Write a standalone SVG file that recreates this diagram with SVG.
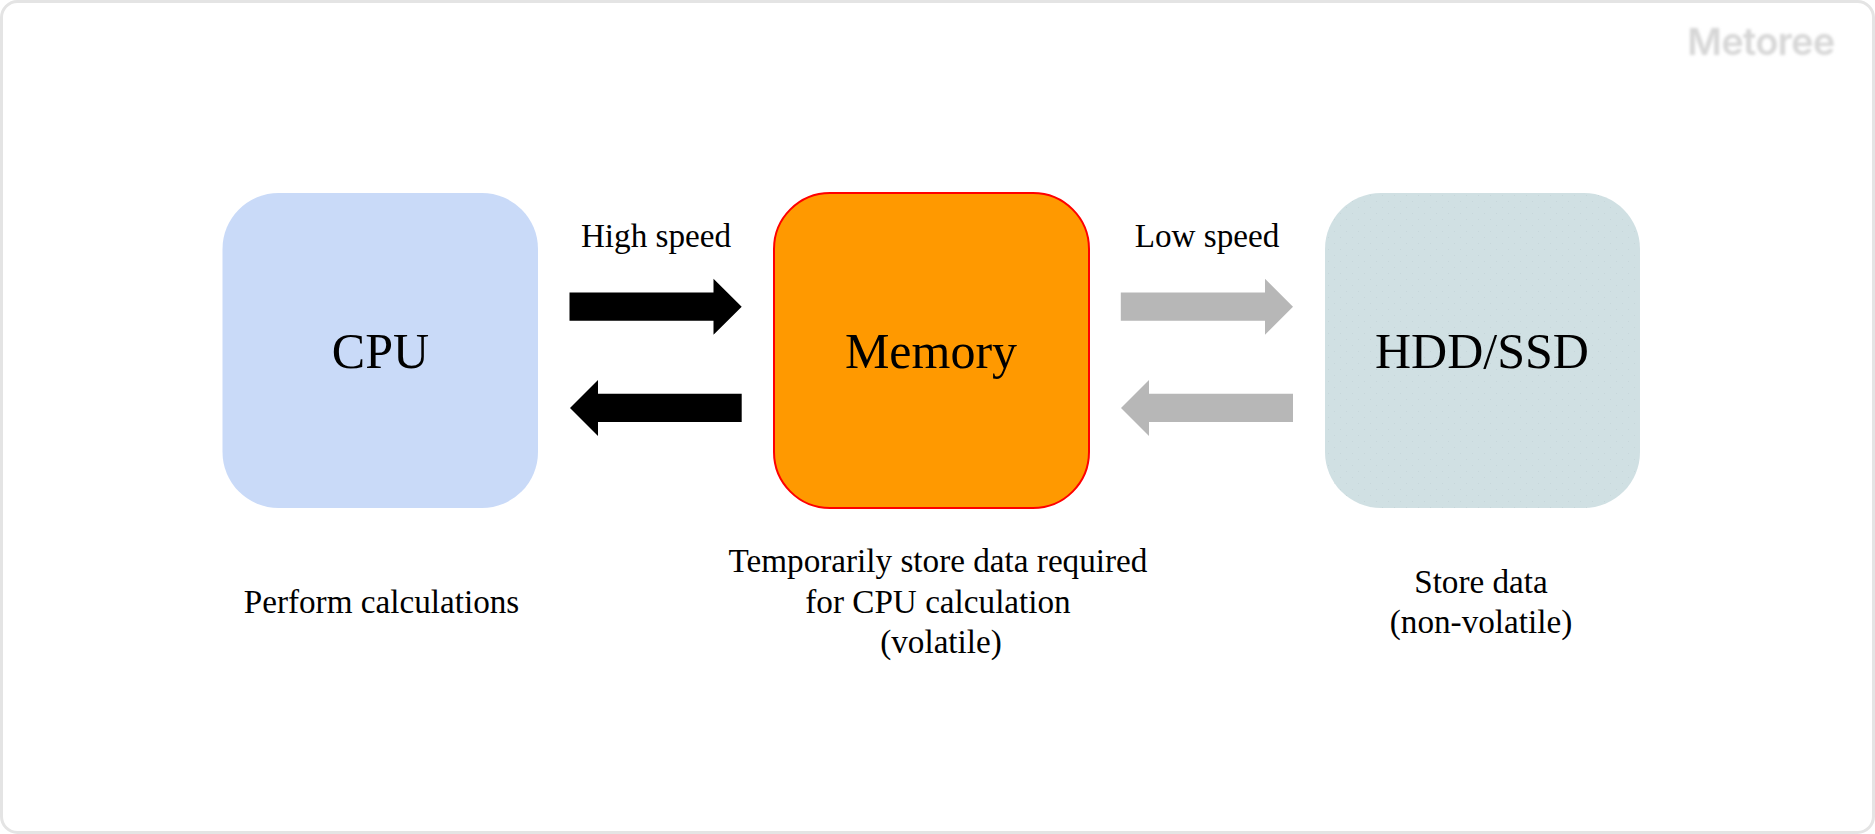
<svg xmlns="http://www.w3.org/2000/svg" width="1875" height="834" viewBox="0 0 1875 834">
  <style>
    text { font-family: "Liberation Serif", "Times New Roman", serif; fill: #000; text-anchor: middle; }
    .title { font-size: 50px; }
    .note { font-size: 33.200px; }
    .box { stroke: none; }
    .mark { font-family: "Inter", "Open Sans", sans-serif; font-size: 37.500px; font-weight: 600; letter-spacing: -0.500px; fill: #d6d6d6; filter: url(#soft); }
  </style>
  <defs>
    <filter id="soft" x="-10%" y="-30%" width="120%" height="160%"><feGaussianBlur stdDeviation="1.400"/></filter>
    <pattern id="dots" width="12" height="12" patternUnits="userSpaceOnUse">
      <rect x="2" y="3" width="1" height="1" fill="#c6d6da"/>
      <rect x="8" y="9" width="1" height="1" fill="#c6d6da"/>
    </pattern>
  </defs>

  <rect width="1875" height="834" fill="#fff"/>
  <rect x="1.500" y="1.500" width="1872" height="831" rx="16" fill="#fff" stroke="#e4e4e4" stroke-width="3"/>
  <text id="logo" class="mark" x="1761" y="55">Metoree</text>

  <g id="cpu">
    <rect class="box" x="222.500" y="193" width="315.500" height="315" rx="56" fill="#c9daf8"/>
    <text class="title" x="380.500" y="368">CPU</text>
  </g>
  <g id="memory">
    <rect x="774" y="193" width="315" height="315" rx="56" fill="#ff9900" stroke="#ff0000" stroke-width="2"/>
    <text class="title" x="931" y="368">Memory</text>
  </g>
  <g id="storage">
    <rect class="box" x="1325" y="193" width="315" height="315" rx="56" fill="#d0e0e3"/>
    <rect class="box" x="1325" y="193" width="315" height="315" rx="56" fill="url(#dots)"/>
    <text class="title" x="1482" y="368">HDD/SSD</text>
  </g>

  <g id="connectors">
    <path fill="#000" d="M569.500 292.500H713.500V278.700L741.700 306.700L713.500 334.700V320.700H569.500Z"/>
    <path fill="#000" d="M741.700 393.700H598V380L570 408L598 436V422H741.700Z"/>
    <path fill="#b7b7b7" d="M1120.800 292.500H1265V278.700L1293 306.700L1265 334.700V320.700H1120.800Z"/>
    <path fill="#b7b7b7" d="M1293 393.700H1149V380L1121 408L1149 436V422H1293Z"/>
  </g>

  <g id="labels">
    <text class="note" x="656" y="247">High speed</text>
    <text class="note" x="1207" y="247">Low speed</text>
    <text class="note" x="381.500" y="613">Perform calculations</text>
    <text class="note" x="938" y="572">Temporarily store data required</text>
    <text class="note" x="938" y="613">for CPU calculation</text>
    <text class="note" x="941" y="653">(volatile)</text>
    <text class="note" x="1481" y="593">Store data</text>
    <text class="note" x="1481" y="633">(non-volatile)</text>
  </g>
</svg>
